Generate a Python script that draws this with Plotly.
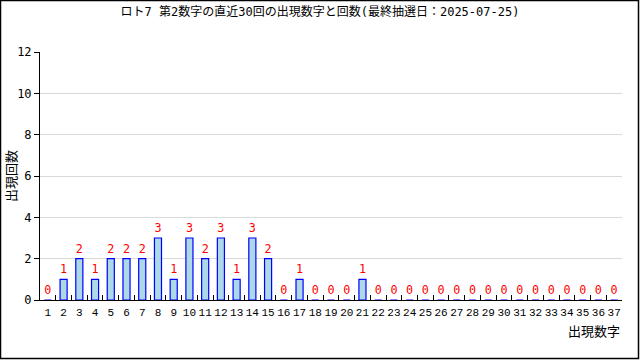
import plotly.graph_objects as go

numbers = [str(i) for i in range(1, 38)]
counts = [0, 1, 2, 1, 2, 2, 2, 3, 1, 3, 2, 3, 1, 3, 2, 0, 1, 0, 0, 0, 1,
          0, 0, 0, 0, 0, 0, 0, 0, 0, 0, 0, 0, 0, 0, 0, 0]
title = "ロト7 第2数字の直近30回の出現数字と回数(最終抽選日：2025-07-25)"
y_ticks = [0, 2, 4, 6, 8, 10, 12]

FONT = "DejaVu Sans Mono, Noto Sans CJK JP"
L, R, T, B = 40, 18, 52, 60
W, H = 640, 360
pw, ph = W - L - R, H - T - B

fig = go.Figure(go.Bar(
    x=numbers, y=counts, width=0.45,
    marker=dict(color="lightblue", line=dict(color="blue", width=1.2)),
    text=[str(c) for c in counts], textposition="outside",
    textfont=dict(color="red", size=12, family=FONT),
    cliponaxis=False,
))

fig.update_layout(
    width=W, height=H,
    margin=dict(l=L, r=R, t=T, b=B),
    paper_bgcolor="white", plot_bgcolor="white",
    font=dict(family=FONT, size=12, color="black"),
    showlegend=False,
    bargap=0.5,
    title=dict(text=title, x=0.5, xanchor="center", y=1 - 12 / H, yanchor="middle",
               font=dict(size=12, family=FONT)),
)
fig.update_xaxes(type="category", showline=True, linecolor="black", linewidth=1,
                 ticks="inside", tickson="boundaries", ticklen=5, tickcolor="black",
                 showgrid=False, tickangle=0, ticklabelstandoff=2,
                 tickfont=dict(size=11, family="Liberation Mono"), mirror=False)
fig.update_yaxes(range=[0, 12], tickvals=y_ticks, showline=True, linecolor="black",
                 linewidth=1, ticks="outside", ticklen=5, tickcolor="black",
                 gridcolor="#d9d9d9", gridwidth=1, zeroline=False,
                 tickfont=dict(size=12))

fig.add_annotation(text="出現数字", xref="paper", yref="paper", x=1, y=-30 / ph,
                   xanchor="right", yanchor="middle", showarrow=False,
                   font=dict(size=13, family="Noto Sans CJK JP"))
fig.add_annotation(text="出現回数", xref="paper", yref="paper", x=-(L - 10) / pw, y=0.5,
                   xanchor="center", yanchor="middle", showarrow=False, textangle=-90,
                   font=dict(size=13, family="Noto Sans CJK JP"))
fig.add_shape(type="rect", xref="paper", yref="paper",
              x0=-(L - 0.5) / pw, x1=1 + (R - 1.5) / pw,
              y0=-(B - 1.5) / ph, y1=1 + (T - 0.5) / ph,
              line=dict(color="black", width=1.5), fillcolor="rgba(0,0,0,0)")

fig.write_html("out.html")
